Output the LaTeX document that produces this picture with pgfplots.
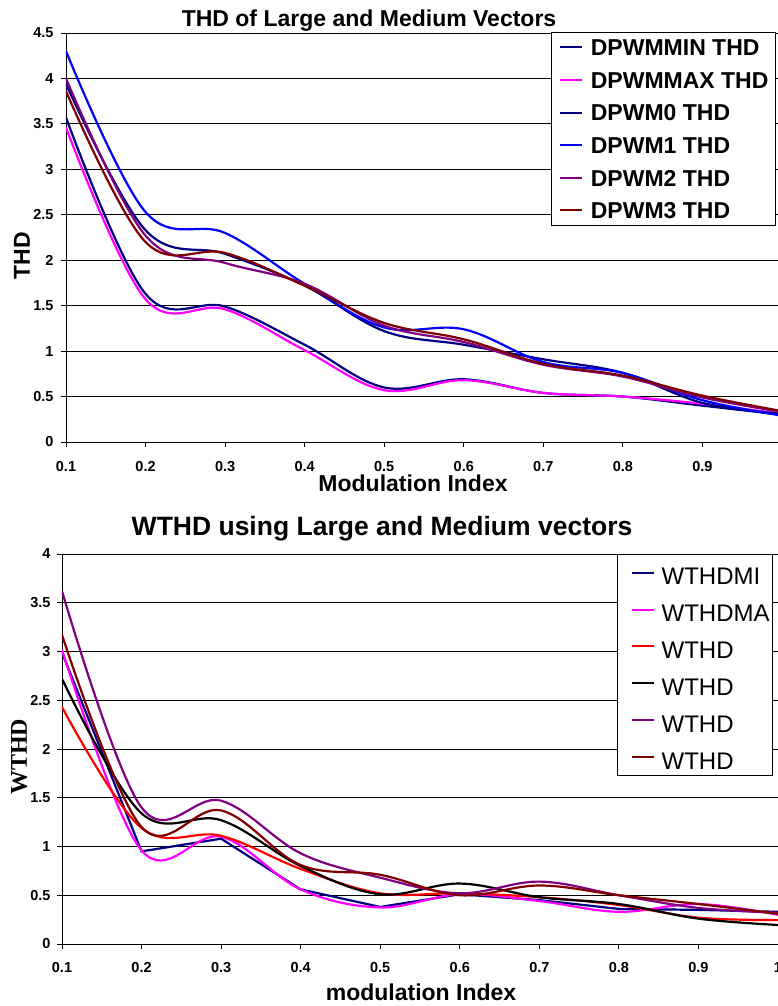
\documentclass[border=0pt]{standalone}
\usepackage{fontspec}
\setmainfont{Liberation Sans}
\newfontfamily\timesfont{Liberation Serif}
\usepackage{pgfplots}
\pgfplotsset{compat=1.18}

\definecolor{cnavy}{RGB}{0,0,128}
\definecolor{cmag}{RGB}{255,0,255}
\definecolor{cblue}{RGB}{0,0,255}
\definecolor{cpurple}{RGB}{128,0,128}
\definecolor{cmaroon}{RGB}{128,0,0}
\definecolor{cred}{RGB}{255,0,0}

\pgfplotsset{
  common/.style={
    scale only axis,
    axis lines=left,
    axis line style={-, black, line width=0.9pt},
    ymajorgrids,
    grid style={black, line width=0.8pt},
    tick align=outside,
    major tick length=5pt,
    tick style={black, line width=0.9pt},
    /pgf/number format/assume math mode=true,
    ticklabel style={font=\fontsize{14.5}{16}\selectfont\bfseries},
    every axis plot/.append style={line width=2.2pt, smooth, tension=0.6},
    legend cell align=left,
    legend image code/.code={\path[draw=none,fill=none] (0pt,-8.25pt) rectangle (22pt,8.25pt); \draw[#1, line width=2pt, sharp plot] (0pt,0pt) -- (22pt,0pt);},
  }
}

\begin{document}
\begin{tikzpicture}
% ---------------- Top chart ----------------
\begin{axis}[common,
  at={(66pt,564pt)}, anchor=south west,
  width=712pt, height=409pt,
  xmin=0.1, xmax=0.995, ymin=0, ymax=4.5,
  xtick={0.1,0.2,0.3,0.4,0.5,0.6,0.7,0.8,0.9},
  ytick={0,0.5,1,1.5,2,2.5,3,3.5,4,4.5},
  xticklabel style={yshift=-11pt},
  yticklabel style={xshift=-4pt},
  title={THD of Large and Medium Vectors},
  every axis title/.style={at={(axis description cs:0.4256,1.0147)}, anchor=base,
    font=\fontsize{23}{27}\selectfont\bfseries},
  xlabel={Modulation Index},
  every axis x label/.style={at={(axis description cs:0.4874,-0.1222)}, anchor=base,
    font=\fontsize{23}{27}\selectfont\bfseries},
  ylabel={THD},
  every axis y label/.style={at={(axis description cs:-0.0506,0.4548)}, rotate=90, anchor=base,
    font=\fontsize{23}{27}\selectfont\bfseries},
  legend style={at={(axis description cs:0.997,1.0024)}, anchor=north east,
    draw=black, line width=0.8pt, fill=white,
    font=\fontsize{23}{27}\selectfont\bfseries,
    inner xsep=7pt, inner ysep=3pt, row sep=8.6pt, column sep=8pt,
    nodes={inner sep=0pt, text height=20.25pt, text depth=3.75pt}},
]
\addplot[cnavy] coordinates {(0.1,3.57)(0.2,1.63)(0.3,1.49)(0.4,1.07)(0.5,0.60)(0.6,0.69)(0.7,0.54)(0.8,0.50)(0.9,0.40)(1.0,0.30)};
\addlegendentry{DPWMMIN THD}
\addplot[cmag] coordinates {(0.1,3.46)(0.2,1.57)(0.3,1.46)(0.4,1.01)(0.5,0.57)(0.6,0.68)(0.7,0.54)(0.8,0.50)(0.9,0.42)(1.0,0.31)};
\addlegendentry{DPWMMAX THD}
\addplot[cnavy] coordinates {(0.1,3.94)(0.2,2.33)(0.3,2.07)(0.4,1.72)(0.5,1.22)(0.6,1.07)(0.7,0.91)(0.8,0.76)(0.9,0.43)(1.0,0.31)};
\addlegendentry{DPWM0 THD}
\addplot[cblue] coordinates {(0.1,4.30)(0.2,2.53)(0.3,2.30)(0.4,1.74)(0.5,1.26)(0.6,1.24)(0.7,0.88)(0.8,0.76)(0.9,0.46)(1.0,0.29)};
\addlegendentry{DPWM1 THD}
\addplot[cpurple] coordinates {(0.1,4.00)(0.2,2.27)(0.3,1.97)(0.4,1.74)(0.5,1.28)(0.6,1.10)(0.7,0.85)(0.8,0.72)(0.9,0.49)(1.0,0.33)};
\addlegendentry{DPWM2 THD}
\addplot[cmaroon] coordinates {(0.1,3.86)(0.2,2.20)(0.3,2.08)(0.4,1.72)(0.5,1.31)(0.6,1.13)(0.7,0.86)(0.8,0.73)(0.9,0.51)(1.0,0.34)};
\addlegendentry{DPWM3 THD}
\end{axis}

% ---------------- Bottom chart ----------------
\begin{axis}[common,
  at={(62pt,62pt)}, anchor=south west,
  width=716pt, height=390pt,
  xmin=0.1, xmax=1.0, ymin=0, ymax=4,
  xtick={0.1,0.2,0.3,0.4,0.5,0.6,0.7,0.8,0.9,1},
  ytick={0,0.5,1,1.5,2,2.5,3,3.5,4},
  xticklabel style={yshift=-10pt},
  yticklabel style={xshift=-3pt},
  title={WTHD using Large and Medium vectors},
  every axis title/.style={at={(axis description cs:0.447,1.0487)}, anchor=base,
    font=\fontsize{26.5}{30}\selectfont\bfseries},
  xlabel={modulation Index},
  every axis x label/.style={at={(axis description cs:0.5014,-0.1436)}, anchor=base,
    font=\fontsize{23}{27}\selectfont\bfseries},
  ylabel={WTHD},
  every axis y label/.style={at={(axis description cs:-0.0489,0.4795)}, rotate=90, anchor=base,
    font=\fontsize{24}{28}\selectfont\timesfont\bfseries},
  legend style={at={(axis description cs:0.993,1.0)}, anchor=north east,
    draw=black, line width=0.8pt, fill=white,
    font=\fontsize{24}{28}\selectfont,
    inner xsep=3pt, inner ysep=2pt, row sep=3.8pt, column sep=7pt,
    nodes={inner sep=0pt, text height=28.6pt, text depth=4.4pt}},
  legend image code/.code={\path[draw=none,fill=none] (0pt,-8.6pt) rectangle (33pt,8.6pt); \draw[#1, line width=2pt, sharp plot] (11pt,0pt) -- (33pt,0pt);},
]
\addplot[cnavy, sharp plot] coordinates {(0.1,2.99)(0.2,0.95)(0.3,1.08)(0.4,0.56)(0.5,0.38)(0.6,0.51)(0.7,0.45)(0.8,0.36)(0.9,0.35)(1.0,0.33)};
\addlegendentry{WTHDMI}
\addplot[cmag] coordinates {(0.1,3.02)(0.2,0.96)(0.3,1.10)(0.4,0.56)(0.5,0.375)(0.6,0.51)(0.7,0.44)(0.8,0.33)(0.9,0.41)(1.0,0.30)};
\addlegendentry{WTHDMA}
\addplot[cred] coordinates {(0.1,2.43)(0.2,1.19)(0.3,1.11)(0.4,0.77)(0.5,0.52)(0.6,0.52)(0.7,0.48)(0.8,0.40)(0.9,0.27)(1.0,0.245)};
\addlegendentry{WTHD}
\addplot[black] coordinates {(0.1,2.72)(0.2,1.34)(0.3,1.27)(0.4,0.80)(0.5,0.51)(0.6,0.62)(0.7,0.48)(0.8,0.41)(0.9,0.26)(1.0,0.195)};
\addlegendentry{WTHD}
\addplot[cpurple] coordinates {(0.1,3.62)(0.2,1.40)(0.3,1.47)(0.4,0.93)(0.5,0.68)(0.6,0.52)(0.7,0.64)(0.8,0.50)(0.9,0.37)(1.0,0.32)};
\addlegendentry{WTHD}
\addplot[cmaroon] coordinates {(0.1,3.17)(0.2,1.20)(0.3,1.37)(0.4,0.81)(0.5,0.71)(0.6,0.50)(0.7,0.60)(0.8,0.50)(0.9,0.41)(1.0,0.31)};
\addlegendentry{WTHD}
\end{axis}
\pgfresetboundingbox
\useasboundingbox (0,0) rectangle (778pt,1006pt);
\end{tikzpicture}
\end{document}
